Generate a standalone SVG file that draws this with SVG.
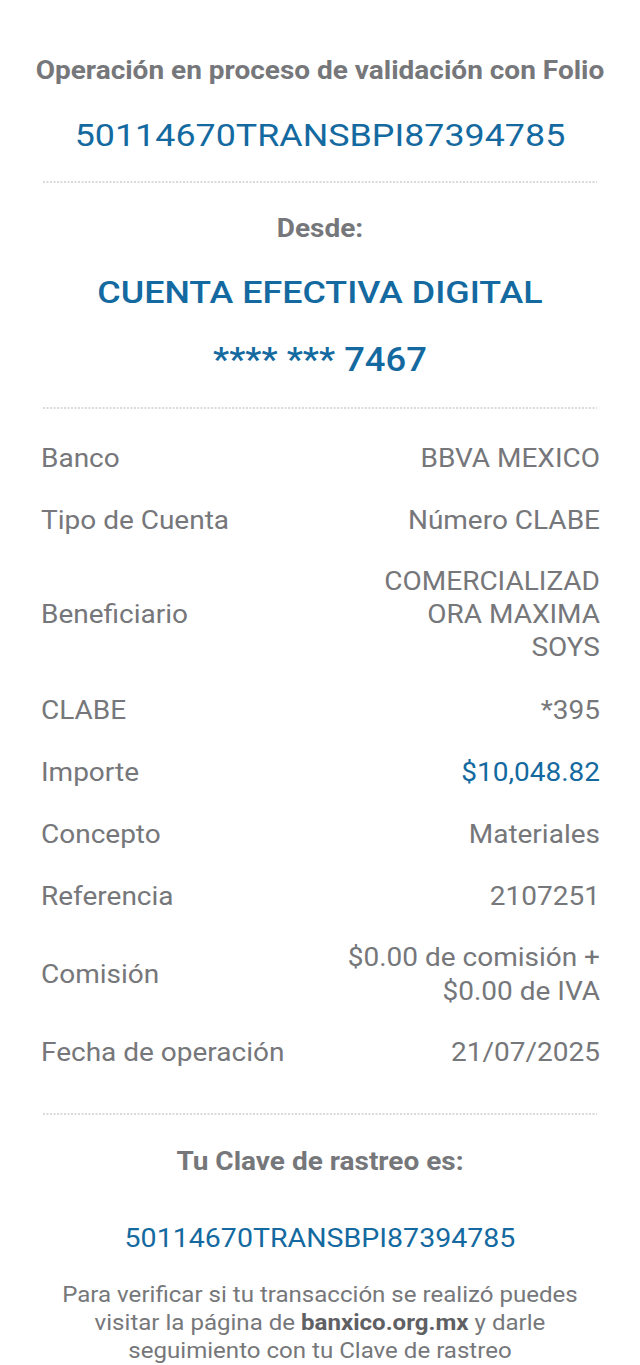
<svg xmlns="http://www.w3.org/2000/svg" width="640" height="1365" viewBox="0 0 640 1365">
<style>
text{font-family:Roboto,"Liberation Sans",sans-serif}
.h{fill:#76777a;font-weight:bold;text-anchor:middle}
.b{fill:#146aa0;text-anchor:middle}
.l{fill:#76777a;font-size:25px}
.v{fill:#76777a;font-size:25px;text-anchor:end}
.d{stroke:#b5b5b5;stroke-width:1.2;stroke-dasharray:2 1.5}
.p{fill:#76777a;font-size:21.5px;text-anchor:middle}
</style>
<rect width="640" height="1365" fill="#ffffff"/>
<g id="dividers">
<line class="d" x1="43" y1="182" x2="597" y2="182"/>
<line class="d" x1="43" y1="408" x2="597" y2="408"/>
<line class="d" x1="43" y1="1114" x2="597" y2="1114"/>
</g>
<g transform="matrix(1.12 0 0 1 -38.4 0)">
<g id="header">
<text class="h" x="320" y="79" font-size="25">Operación en proceso de validación con Folio</text>
<text class="b" x="320" y="146" font-size="32">50114670TRANSBPI87394785</text>
</g>
<g id="desde">
<text class="h" x="320" y="237" font-size="25">Desde:</text>
<text class="b" x="320" y="303" font-size="32" font-weight="500">CUENTA EFECTIVA DIGITAL</text>
<text class="b" x="320" y="371" font-size="32.5" font-weight="500">**** *** 7467</text>
</g>
<g id="rows">
<text class="l" x="70.9" y="467">Banco</text><text class="v" x="570" y="467">BBVA MEXICO</text>
<text class="l" x="70.9" y="529">Tipo de Cuenta</text><text class="v" x="570" y="529">Número CLABE</text>
<text class="l" x="70.9" y="623">Beneficiario</text>
<text class="v" x="570" y="590">COMERCIALIZAD</text>
<text class="v" x="570" y="623">ORA MAXIMA</text>
<text class="v" x="570" y="656">SOYS</text>
<text class="l" x="70.9" y="719">CLABE</text><text class="v" x="570" y="719">*395</text>
<text class="l" x="70.9" y="781">Importe</text><text class="v" x="570" y="781" style="fill:#146aa0">$10,048.82</text>
<text class="l" x="70.9" y="843">Concepto</text><text class="v" x="570" y="843">Materiales</text>
<text class="l" x="70.9" y="905">Referencia</text><text class="v" x="570" y="905">2107251</text>
<text class="l" x="70.9" y="983">Comisión</text>
<text class="v" x="570" y="966">$0.00 de comisión +</text>
<text class="v" x="570" y="1000">$0.00 de IVA</text>
<text class="l" x="70.9" y="1061">Fecha de operación</text><text class="v" x="570" y="1061">21/07/2025</text>
</g>
<g id="footer">
<text class="h" x="320" y="1170" font-size="25">Tu Clave de rastreo es:</text>
<text class="b" x="320" y="1247" font-size="25.5">50114670TRANSBPI87394785</text>
<text class="p" x="320" y="1302">Para verificar si tu transacción se realizó puedes</text>
<text class="p" x="320" y="1330">visitar la página de <tspan font-weight="bold" fill="#5f6063">banxico.org.mx</tspan> y darle</text>
<text class="p" x="320" y="1358">seguimiento con tu Clave de rastreo</text>
</g>
</g>
</svg>
